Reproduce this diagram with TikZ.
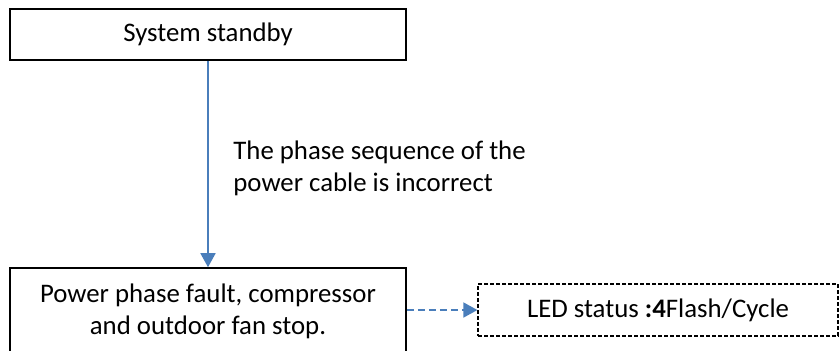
\documentclass[tikz,border=0pt]{standalone}
\usepackage{fontspec}
\setmainfont{Carlito}
\usepackage{xcolor}
\usetikzlibrary{arrows.meta}

\definecolor{flowblue}{HTML}{4A7EBB}

\tikzset{
  statebox/.style={draw,line width=0.8pt,minimum width=198pt,align=center,inner sep=0pt},
  ledbox/.style={draw,line width=0.6pt,dash pattern=on 2pt off 1pt,minimum width=180pt,minimum height=26pt,inner sep=0pt},
  flow/.style={draw=flowblue,line width=0.8pt,-{Triangle[width=7.5pt,length=7pt]},flowblue}
}

\begin{document}
\begin{tikzpicture}[x=0.5pt,y=-0.5pt,font=\fontsize{13.4}{16}\selectfont]
\useasboundingbox (0,0) rectangle (840,350);
\clip (0,0) rectangle (840,350);
\node[statebox,minimum height=25.5pt] (standby) at (208,34.5) {System standby};
\node[statebox,minimum height=43pt] (fault) at (208,311) {Power phase fault, compressor\\and outdoor fan stop.};
\node[ledbox] (led) at (658,310) {LED status \textbf{:4}Flash/Cycle};
\node[anchor=west,align=left,inner sep=0pt] (cause) at (233,168) {The phase sequence of the\\power cable is incorrect};
\draw[flow] (standby) -- (fault);
\draw[flow,dash pattern=on 3.5pt off 2pt] (fault.east |- led) -- (led);
\end{tikzpicture}
\end{document}
